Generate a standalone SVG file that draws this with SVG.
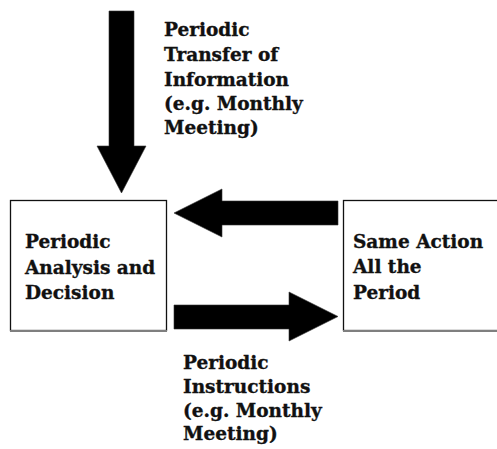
<svg xmlns="http://www.w3.org/2000/svg" width="497" height="449" viewBox="0 0 497 449">
  <style>
    .box { fill: #ffffff; stroke: #111111; stroke-width: 1.3; }
    .shadow { stroke: #7f7f7f; stroke-width: 2; }
    .arrow { fill: #000000; stroke: #333333; stroke-width: 0.6; }
    .label { font-family: "DejaVu Serif", "Liberation Serif", serif; font-weight: bold; font-size: 18.5px; fill: #111111; stroke: #111111; stroke-width: 0.35; }
  </style>
  <rect width="497" height="449" fill="#ffffff"/>

  <g id="connectors">
    <!-- down arrow into the decision box -->
    <polygon class="arrow" points="109,11 134,11 134,146 146,146 121.5,193 97,146 109,146"/>
    <!-- feedback arrow, right to left -->
    <polygon class="arrow" points="338,201 222,201 222,189 174,213 222,237 222,225 338,225"/>
    <!-- instruction arrow, left to right -->
    <polygon class="arrow" points="174,305 289,305 289,292 338,316.5 289,341 289,329 174,329"/>
  </g>

  <g id="transfer-label">
    <text class="label" x="164" y="36">Periodic</text>
    <text class="label" x="164" y="61">Transfer of</text>
    <text class="label" x="164" y="86">Information</text>
    <text class="label" x="164" y="110">(e.g. Monthly</text>
    <text class="label" x="164" y="134">Meeting)</text>
  </g>

  <g id="decision">
    <rect class="box" x="10.5" y="200.5" width="156" height="130"/>
    <line class="shadow" x1="10" y1="331" x2="167" y2="331"/>
    <text class="label" x="25" y="248">Periodic</text>
    <text class="label" x="25" y="274">Analysis and</text>
    <text class="label" x="25" y="299">Decision</text>
  </g>

  <g id="action">
    <rect class="box" x="343.5" y="200.5" width="160" height="130"/>
    <line class="shadow" x1="343" y1="331" x2="497" y2="331"/>
    <text class="label" x="353" y="248">Same Action</text>
    <text class="label" x="353" y="273">All the</text>
    <text class="label" x="353" y="299">Period</text>
  </g>

  <g id="instructions-label">
    <text class="label" x="183" y="369">Periodic</text>
    <text class="label" x="183" y="393">Instructions</text>
    <text class="label" x="183" y="417">(e.g. Monthly</text>
    <text class="label" x="183" y="440">Meeting)</text>
  </g>
</svg>
